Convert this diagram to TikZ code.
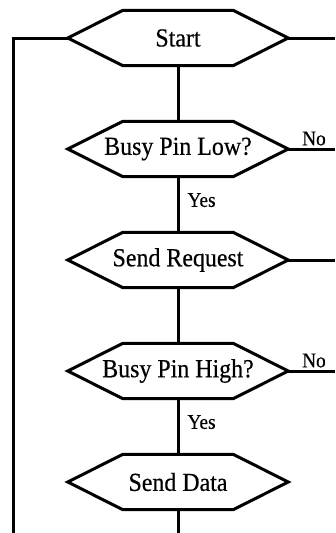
\documentclass[tikz,border=0pt]{standalone}
\usepackage{fontspec}
\setmainfont{Liberation Serif}
\newfontfamily\flowfont[FakeStretch=0.92, FakeBold=0.4]{Liberation Serif}
\tikzset{
  x=1pt, y=1pt,
  hexbox/.style={shape=rectangle, minimum width=220pt, minimum height=55pt,
    inner sep=0pt, font=\flowfont\fontsize{26}{28}\selectfont},
  hexline/.style={draw=black, line width=3pt, line join=miter},
  flow/.style={draw=black, line width=3pt, line join=miter},
  lbl/.style={font=\flowfont\fontsize{21}{23}\selectfont, inner sep=1pt}
}
\begin{document}
\begin{tikzpicture}
\useasboundingbox (0,0) rectangle (335,-533);

% process steps
\node[hexbox] (start) at (178,-38)  {Start};
\node[hexbox] (low)   at (178,-149) {Busy Pin Low?};
\node[hexbox] (req)   at (178,-260) {Send Request};
\node[hexbox] (high)  at (178,-371) {Busy Pin High?};
\node[hexbox] (data)  at (178,-482) {Send Data};

% hexagonal outlines around each step
\foreach \n in {start,low,req,high,data}
  \draw[hexline] (\n.west) -- ([xshift=55pt]\n.north west)
    -- ([xshift=-55pt]\n.north east) -- (\n.east)
    -- ([xshift=-55pt]\n.south east) -- ([xshift=55pt]\n.south west) -- cycle;

% free ends of the connectors at the border
\coordinate (loopL)  at (13,-38);
\coordinate (loopB)  at (13,-533);
\coordinate (startR) at (335,-38);
\coordinate (lowR)   at (335,-149);
\coordinate (reqR)   at (335,-260);
\coordinate (highR)  at (335,-371);
\coordinate (dataB)  at (178,-533);

% main chain
\draw[flow] (start.south) -- (low.north);
\draw[flow] (low.south) -- node[lbl, anchor=west, pos=0.42, xshift=7pt] {Yes} (req.north);
\draw[flow] (req.south) -- (high.north);
\draw[flow] (high.south) -- node[lbl, anchor=west, pos=0.42, xshift=7pt] {Yes} (data.north);
\draw[flow] (data.south) -- (dataB);

% side branches
\draw[flow] (start.west) -- (loopL) -- (loopB);
\draw[flow] (start.east) -- (startR);
\draw[flow] (low.east) -- node[lbl, anchor=south, pos=0.55, yshift=1pt] {No} (lowR);
\draw[flow] (req.east) -- (reqR);
\draw[flow] (high.east) -- node[lbl, anchor=south, pos=0.55, yshift=1pt] {No} (highR);
\end{tikzpicture}
\end{document}
